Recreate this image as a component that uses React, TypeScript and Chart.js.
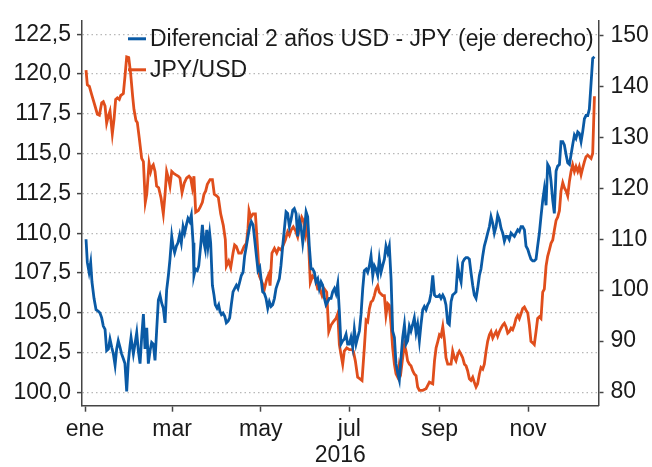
import React, { useEffect, useRef } from "react";
import { Chart, registerables } from "chart.js";

Chart.register(...registerables);

// Day of year 2016 (0 = 1 ene) , value
const jpyUsd: [number, number][] = [
  [0.7,120.24],[1.6,119.32],[3.0,119.22],[4.6,118.71],[6.9,117.99],[8.5,117.48],[9.9,117.42],[11.5,118.19],[12.6,118.26],[13.8,117.99],
  [14.9,116.92],[16.1,117.37],[17.2,117.68],[18.8,116.24],[20.0,117.17],[21.1,118.40],[22.3,118.50],[23.6,118.40],[24.6,118.65],[26.4,118.77],
  [27.5,119.84],[28.7,121.07],[30.1,121.03],[31.4,120.04],[32.8,118.60],[33.7,117.78],[35.1,117.07],[36.0,116.96],[37.4,115.94],[39.0,114.70],
  [40.2,114.50],[41.5,111.94],[42.5,112.45],[44.1,114.40],[45.2,113.88],[46.1,114.19],[47.0,114.30],[48.2,113.88],[49.3,112.96],[50.7,112.86],
  [52.3,112.24],[53.9,111.22],[55.1,112.45],[56.2,113.88],[57.4,113.47],[58.5,112.96],[59.7,113.88],[60.8,113.78],[62.4,113.68],[64.3,113.58],
  [65.4,113.47],[66.8,112.55],[68.4,113.17],[70.0,113.47],[71.6,113.58],[72.7,113.47],[73.9,112.86],[75.0,113.58],[76.2,111.32],[78.0,111.43],
  [79.2,111.63],[80.8,111.94],[81.9,112.45],[83.1,112.66],[84.2,113.07],[86.1,113.37],[87.7,113.37],[89.0,112.45],[90.6,112.35],[91.8,112.24],
  [93.4,111.22],[95.2,110.50],[96.6,109.60],[97.3,107.94],[98.9,108.25],[100.3,107.84],[101.9,108.76],[103.0,109.27],[104.2,109.17],[105.8,108.76],
  [107.6,108.76],[109.5,109.17],[111.1,109.37],[112.2,110.29],[112.9,111.42],[114.1,111.01],[115.7,111.22],[117.3,111.22],[118.6,109.37],[120.0,107.32],
  [121.9,106.91],[123.5,106.50],[125.1,107.12],[126.5,107.42],[127.4,106.71],[128.7,108.76],[130.4,109.06],[132.0,108.76],[133.3,109.06],[134.9,108.96],
  [136.1,109.17],[137.9,109.58],[139.5,110.09],[140.7,109.88],[141.8,110.19],[143.4,110.40],[144.8,110.19],[146.4,109.78],[147.6,110.40],[149.2,111.01],
  [150.3,110.81],[151.7,109.99],[152.6,110.60],[154.0,109.17],[155.1,106.91],[156.7,107.32],[158.6,107.12],[160.2,106.50],[161.8,106.50],[163.2,106.09],
  [164.8,106.50],[166.4,106.30],[167.8,103.83],[169.4,104.24],[171.0,104.45],[172.8,104.65],[174.0,104.96],[175.1,103.01],[176.2,102.40],[177.4,101.78],
  [178.5,102.60],[180.2,102.81],[182.0,102.70],[183.8,102.70],[184.7,102.60],[186.1,101.99],[187.7,100.96],[189.3,100.86],[190.7,100.76],[192.3,102.81],
  [193.5,104.55],[194.6,104.45],[195.8,105.27],[196.9,105.68],[198.1,105.78],[199.2,106.09],[200.3,106.50],[201.5,106.71],[202.6,106.30],[203.8,106.19],
  [204.9,106.09],[206.1,106.09],[207.2,104.86],[208.4,105.58],[209.5,105.47],[210.7,104.24],[211.8,102.81],[213.0,101.78],[214.1,101.17],[215.3,100.96],
  [216.4,101.78],[217.6,101.37],[218.7,102.19],[219.9,103.01],[221.0,102.60],[222.1,101.99],[223.3,101.78],[224.4,101.68],[225.6,101.37],[226.7,101.17],
  [227.9,101.06],[229.0,100.35],[230.2,100.14],[232.5,100.14],[234.8,100.24],[237.1,100.65],[239.4,100.55],[240.6,101.99],[241.7,102.81],[242.9,103.22],
  [244.0,103.63],[245.1,103.53],[246.3,104.14],[247.4,103.32],[248.5,102.19],[249.7,101.78],[252.0,101.78],[253.1,102.60],[254.3,102.19],[255.4,101.99],
  [256.6,102.40],[257.7,102.60],[258.9,102.40],[260.0,102.19],[261.2,101.78],[262.3,101.68],[263.4,101.37],[264.6,100.86],[265.7,100.76],[266.9,100.96],
  [268.0,100.65],[269.2,100.35],[270.3,100.55],[271.5,101.17],[272.6,101.58],[273.8,101.47],[274.9,101.78],[276.1,102.60],[277.2,103.22],[278.4,103.63],
  [279.5,103.83],[280.7,103.42],[281.8,103.63],[283.0,103.83],[284.1,103.53],[285.3,103.83],[286.4,104.04],[287.6,104.24],[288.7,104.35],[289.8,104.14],
  [291.0,103.73],[292.1,103.83],[293.3,104.04],[294.4,103.94],[295.6,104.24],[296.7,104.65],[297.9,104.86],[299.0,104.65],[300.2,104.96],[301.3,105.27],
  [302.5,105.37],[303.6,105.17],[304.8,105.00],[305.9,104.24],[307.0,103.22],[308.2,103.12],[309.3,103.01],[310.5,103.83],[311.6,104.65],[312.8,104.76],
  [313.9,104.65],[315.1,106.30],[316.2,106.50],[317.4,107.94],[318.5,108.55],[319.7,108.96],[320.8,109.37],[322.0,109.58],[323.1,110.19],[324.3,110.81],
  [325.4,111.01],[326.6,111.42],[327.7,112.65],[328.9,113.17],[330.0,112.86],[331.2,112.65],[332.3,112.35],[333.5,113.27],[334.6,113.88],[335.7,114.30],
  [336.9,113.88],[338.0,114.19],[339.2,113.88],[340.3,114.19],[341.5,113.68],[342.6,114.09],[343.8,114.50],[344.9,114.81],[346.1,114.91],[347.2,114.81],
  [348.4,114.70],[349.5,115.01],[350.7,118.60]
];

const diferencial2Y: [number, number][] = [
  [0.7,110.0],[1.6,105.44],[2.8,103.52],[3.9,105.44],[4.8,101.60],[6.2,98.39],[7.6,96.15],[9.2,95.83],[10.3,95.51],[11.5,94.55],
  [12.6,92.94],[13.8,92.30],[14.9,88.13],[16.1,88.45],[17.2,90.38],[18.4,88.78],[19.5,87.49],[20.7,85.25],[21.8,88.45],[22.9,90.06],
  [24.1,88.78],[25.2,87.49],[26.4,86.53],[27.5,85.57],[28.7,80.12],[29.8,85.89],[31.0,89.10],[31.7,90.70],[33.3,87.49],[34.4,89.42],
  [35.6,91.66],[36.7,88.13],[37.9,85.57],[39.0,90.70],[40.2,95.31],[41.3,88.45],[42.5,92.62],[43.6,85.57],[44.8,88.13],[45.9,89.74],
  [47.0,89.42],[48.2,86.21],[49.3,91.98],[50.5,98.07],[51.6,99.03],[52.8,97.43],[53.9,96.47],[55.1,93.58],[56.2,99.99],[57.4,102.88],
  [58.5,106.08],[59.7,110.57],[60.6,108.65],[61.7,107.37],[62.9,108.65],[64.0,109.29],[65.2,110.89],[66.3,109.29],[67.5,112.49],[68.6,111.21],
  [69.8,112.81],[70.9,114.10],[72.1,113.46],[73.2,114.74],[74.4,109.29],[75.0,102.88],[76.0,104.16],[77.3,103.84],[78.3,104.80],[79.6,108.65],
  [80.8,112.81],[81.9,109.29],[82.8,108.01],[83.8,111.85],[84.7,108.65],[85.8,111.21],[86.5,109.29],[87.7,100.96],[88.8,99.03],[89.7,97.11],
  [90.9,96.47],[92.0,97.11],[92.9,95.83],[93.9,95.19],[95.0,95.51],[96.2,94.87],[97.3,93.58],[98.5,93.90],[99.6,94.55],[100.7,97.11],
  [101.9,99.67],[103.0,100.31],[104.2,100.96],[105.3,100.31],[106.5,101.60],[107.6,102.88],[108.8,103.52],[109.9,106.72],[111.1,108.65],[112.2,110.57],
  [113.4,112.49],[114.5,113.46],[115.7,112.81],[116.8,109.93],[118.0,106.72],[119.1,103.84],[120.3,104.48],[121.2,102.24],[122.3,99.67],[123.5,99.35],
  [124.6,98.39],[125.8,96.47],[126.9,97.75],[128.1,96.79],[129.2,97.11],[130.4,98.39],[131.5,100.31],[132.6,101.28],[133.8,102.24],[134.9,104.80],
  [136.1,108.65],[137.2,111.85],[138.4,115.38],[139.5,115.06],[140.7,112.49],[141.8,113.78],[143.0,115.70],[144.1,116.02],[145.3,115.06],[146.4,110.57],
  [147.6,113.78],[148.7,112.49],[149.9,109.29],[151.0,111.85],[152.2,115.38],[153.3,114.42],[154.4,108.65],[155.6,104.16],[156.7,104.16],[157.9,103.52],
  [159.0,101.60],[160.2,102.24],[161.3,100.31],[162.5,101.60],[163.6,100.96],[164.8,98.39],[165.9,97.11],[167.1,97.75],[168.2,98.39],[169.4,98.39],
  [170.5,99.67],[171.7,100.31],[172.8,99.35],[174.0,101.28],[175.1,95.83],[176.2,89.42],[177.4,90.06],[178.5,90.38],[179.7,91.34],[180.8,89.42],
  [182.0,89.42],[183.1,90.70],[184.3,88.78],[185.4,92.30],[186.6,89.42],[187.7,90.70],[188.9,91.98],[190.0,95.19],[191.2,100.31],[192.3,103.84],
  [193.5,104.16],[194.6,103.52],[195.8,104.80],[196.9,106.72],[198.1,102.88],[199.2,104.80],[200.3,104.16],[201.5,102.88],[202.6,106.08],[203.8,103.52],
  [204.9,104.80],[206.1,106.08],[207.2,108.65],[208.4,107.37],[209.5,108.65],[210.7,102.24],[211.8,91.98],[213.0,90.70],[214.1,85.57],[215.3,83.65],
  [216.4,82.36],[217.6,86.85],[218.7,90.70],[219.9,93.26],[221.0,89.42],[222.1,90.06],[223.3,92.94],[224.4,91.98],[225.6,93.26],[226.7,94.55],
  [227.9,91.66],[229.0,93.26],[230.2,90.06],[231.3,93.26],[232.5,96.15],[233.6,96.79],[234.8,96.15],[235.9,97.11],[237.1,97.75],[238.2,99.35],
  [239.4,102.88],[240.6,99.03],[241.7,98.71],[242.9,98.71],[244.0,99.03],[245.1,98.39],[246.3,99.03],[247.4,98.39],[248.5,97.11],[249.7,93.58],
  [250.8,93.26],[252.0,97.75],[253.1,99.03],[254.3,99.35],[255.4,99.67],[256.6,104.80],[257.7,102.88],[258.9,101.60],[260.0,105.44],[261.2,106.08],
  [262.3,106.40],[263.4,106.40],[264.6,106.08],[265.7,103.52],[266.9,100.96],[268.0,99.03],[269.2,98.39],[270.3,100.31],[271.5,102.88],[272.6,104.16],
  [273.8,106.72],[274.9,108.65],[276.1,109.93],[277.2,111.21],[278.4,112.49],[279.5,114.42],[280.7,113.13],[281.8,111.21],[283.0,112.49],[284.1,114.74],
  [285.3,113.78],[286.4,112.17],[287.6,111.21],[288.7,109.61],[289.8,110.57],[291.0,110.57],[292.1,109.93],[293.3,111.21],[294.4,110.89],[295.6,110.57],
  [296.7,111.21],[297.9,111.85],[299.0,111.53],[300.2,112.49],[301.3,112.49],[302.5,111.85],[303.6,108.65],[304.8,108.0],[305.9,107.0],[307.0,106.08],
  [308.2,105.76],[309.3,105.76],[310.5,106.08],[311.6,108.65],[312.8,111.21],[313.9,114.42],[315.1,117.63],[316.2,119.87],[317.4,116.66],[318.5,124.67],
  [319.7,124.03],[320.8,121.47],[322.0,117.63],[323.1,115.06],[324.3,123.39],[325.4,124.35],[326.6,124.67],[327.7,129.16],[328.9,129.16],[330.0,128.52],
  [331.2,126.60],[332.3,124.99],[333.5,124.67],[334.6,126.60],[335.7,128.52],[336.9,130.44],[338.0,129.80],[339.2,131.08],[340.3,130.76],[341.5,129.16],
  [342.6,131.08],[343.8,133.65],[344.9,134.29],[346.1,134.29],[347.2,135.57],[348.4,140.70],[349.5,145.51],[350.7,145.83]
];

const monthTickDays = [0, 60, 121, 182, 244, 305];
const monthLabels = ["ene", "mar", "may", "jul", "sep", "nov"];
const leftTicks = [100, 102.5, 105, 107.5, 110, 112.5, 115, 117.5, 120, 122.5];
const rightTicks = [80, 90, 100, 110, 120, 130, 140, 150];
const seriesLabels = ["Diferencial 2 años USD - JPY (eje derecho)", "JPY/USD"];
const seriesColors = ["#0A5AA5", "#E04E1C"];

const FONT = "'Liberation Sans', Arial, sans-serif";
const TEXT = "#1a1a1a";
const AXIS = "#444444";

const insideLegend = {
  id: "insideLegend",
  afterDatasetsDraw(chart: any) {
    const { ctx, chartArea } = chart;
    ctx.save();
    const x0 = chartArea.left + 46;
    seriesLabels.forEach((label, i) => {
      const y = chartArea.top + 18 + i * 31;
      ctx.strokeStyle = seriesColors[i];
      ctx.lineWidth = 3;
      ctx.beginPath();
      ctx.moveTo(x0, y);
      ctx.lineTo(x0 + 18, y);
      ctx.stroke();
      ctx.fillStyle = TEXT;
      ctx.font = `23px ${FONT}`;
      ctx.textBaseline = "middle";
      ctx.textAlign = "left";
      ctx.fillText(label, x0 + 22, y + 1);
    });
    ctx.restore();
  },
};

export default function App() {
  const ref = useRef<HTMLCanvasElement | null>(null);
  useEffect(() => {
    if (!ref.current) return;
    const chart = new Chart(ref.current, {
      type: "line",
      data: {
        datasets: [
          {
            label: seriesLabels[0],
            data: diferencial2Y.map(([x, y]) => ({ x, y })),
            yAxisID: "y2",
            borderColor: seriesColors[0],
            borderWidth: 2.8,
            pointRadius: 0,
            tension: 0,
          },
          {
            label: seriesLabels[1],
            data: jpyUsd.map(([x, y]) => ({ x, y })),
            yAxisID: "y",
            borderColor: seriesColors[1],
            borderWidth: 2.8,
            pointRadius: 0,
            tension: 0,
          },
        ],
      },
      options: {
        animation: false,
        responsive: false,
        devicePixelRatio: 1,
        layout: { padding: { top: 13, left: 0, right: 0, bottom: 0 } },
        plugins: { legend: { display: false }, tooltip: { enabled: false } },
        scales: {
          x: {
            type: "linear",
            min: -2.07,
            max: 353.5,
            afterBuildTicks: (a: any) => {
              a.ticks = monthTickDays.map((v) => ({ value: v }));
            },
            afterFit: (s: any) => {
              s.height = 61.3;
            },
            ticks: {
              autoSkip: false,
              maxRotation: 0,
              padding: 4,
              color: TEXT,
              font: { family: FONT, size: 23 },
              callback: (v: any) => monthLabels[monthTickDays.indexOf(Number(v))] ?? "",
            },
            grid: { drawOnChartArea: false, drawTicks: true, tickLength: 6, tickColor: AXIS, tickWidth: 1.5 },
            border: { display: true, color: AXIS, width: 1.5 },
            title: {
              display: true,
              text: "2016",
              color: TEXT,
              font: { family: FONT, size: 23, lineHeight: 1 },
              padding: { top: 0, bottom: 0 },
            },
          },
          y: {
            position: "left",
            min: 99.175,
            max: 123.34,
            afterBuildTicks: (a: any) => {
              a.ticks = leftTicks.map((v) => ({ value: v }));
            },
            afterFit: (s: any) => {
              s.width = 82;
            },
            ticks: {
              padding: 6,
              color: TEXT,
              font: { family: FONT, size: 23 },
              callback: (v: any) => Number(v).toFixed(1).replace(".", ","),
            },
            grid: {
              color: "#b8b8b8",
              lineWidth: 1.2,
              drawTicks: true,
              tickLength: 5,
              tickColor: AXIS,
              tickWidth: 1.5,
              tickBorderDash: [],
            },
            border: { display: true, color: AXIS, width: 1.5, dash: [1.5, 3] },
          },
          y2: {
            position: "right",
            min: 77.31,
            max: 152.89,
            afterBuildTicks: (a: any) => {
              a.ticks = rightTicks.map((v) => ({ value: v }));
            },
            afterFit: (s: any) => {
              s.width = 53.5;
            },
            ticks: {
              padding: 7,
              color: TEXT,
              font: { family: FONT, size: 23 },
              callback: (v: any) => String(v),
            },
            grid: { drawOnChartArea: false, drawTicks: true, tickLength: 5, tickColor: AXIS, tickWidth: 1.5 },
            border: { display: true, color: AXIS, width: 1.5 },
          },
        },
      },
      plugins: [insideLegend],
    } as any);
    return () => chart.destroy();
  }, []);
  return (
    <div style={{ position: "fixed", left: 0, top: 0, width: 652, height: 467, background: "#fff" }}>
      <canvas ref={ref} width={652} height={467} style={{ width: 652, height: 467, display: "block" }} />
    </div>
  );
}
